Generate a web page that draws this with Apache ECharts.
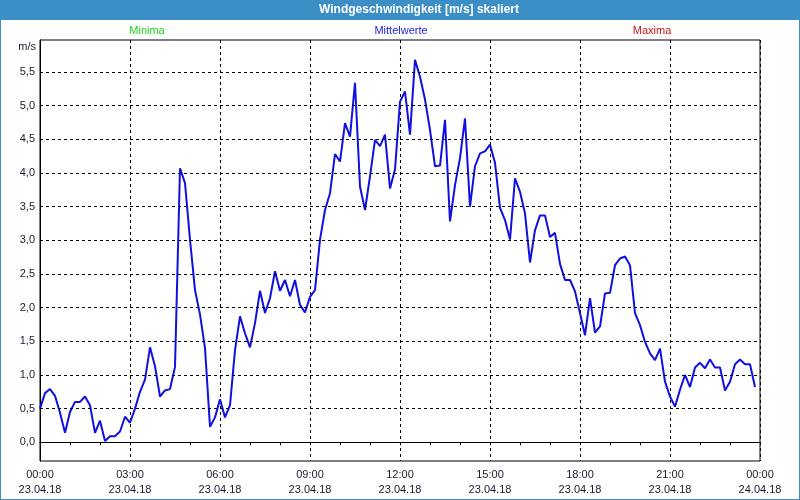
<!DOCTYPE html>
<html>
<head>
<meta charset="utf-8">
<script src="https://cdn.jsdelivr.net/npm/echarts@6/dist/echarts.min.js"></script>
<style>
html,body{margin:0;padding:0;background:#fff;}
#c{width:800px;height:500px;}
</style>
</head>
<body>
<div id="c"></div>
<script>
// 10-minute samples, 00:00 .. 23:50 on 23.04.18
const windValues = [
 0.50,0.73,0.79,0.69,0.44,0.14,0.45,0.60,0.60,0.68,0.55,0.14,
 0.32,0.02,0.09,0.09,0.16,0.38,0.29,0.50,0.75,0.93,1.41,1.13,
 0.68,0.77,0.79,1.12,4.07,3.85,3.01,2.26,1.90,1.40,0.23,0.37,
 0.64,0.37,0.55,1.37,1.87,1.62,1.41,1.77,2.25,1.92,2.14,2.54,
 2.25,2.41,2.17,2.41,2.04,1.93,2.16,2.26,3.01,3.45,3.70,4.28,
 4.17,4.74,4.54,5.34,3.80,3.45,3.95,4.49,4.40,4.57,3.77,4.05,
 5.06,5.21,4.57,5.68,5.43,5.09,4.64,4.10,4.11,4.79,3.28,3.82,
 4.22,4.81,3.50,4.10,4.29,4.32,4.42,4.15,3.48,3.30,3.01,3.92,
 3.72,3.40,2.67,3.15,3.37,3.37,3.05,3.11,2.65,2.41,2.41,2.24,
 1.92,1.59,2.14,1.63,1.72,2.21,2.22,2.63,2.73,2.76,2.63,1.92,
 1.74,1.49,1.32,1.22,1.39,0.90,0.68,0.53,0.78,1.00,0.82,1.11,
 1.18,1.10,1.23,1.11,1.11,0.77,0.90,1.16,1.23,1.16,1.16,0.82
];
const stepHours = 1/6;
const timeLabels = ['00:00','03:00','06:00','09:00','12:00','15:00','18:00','21:00','00:00'];
const dateLabels = ['23.04.18','23.04.18','23.04.18','23.04.18','23.04.18','23.04.18','23.04.18','23.04.18','24.04.18'];
const yTicks = [0,0.5,1,1.5,2,2.5,3,3.5,4,4.5,5,5.5];
const seriesNames = ['Minima','Mittelwerte','Maxima'];
const titleText = 'Windgeschwindigkeit [m/s] skaliert';
const unitText = 'm/s';

const seriesData = windValues.map((v,i)=>[i*stepHours, v]);
const FONT = "'Liberation Sans', Arial, sans-serif";
const chart = echarts.init(document.getElementById('c'), null, {renderer:'canvas'});
chart.setOption({
  animation:false,
  backgroundColor:'#ffffff',
  grid:{left:40,right:40,top:40,bottom:39,show:true,borderColor:'#000',borderWidth:1,backgroundColor:'transparent'},
  xAxis:{
    type:'value', min:0, max:24, interval:3,
    axisLine:{show:true,lineStyle:{color:'#000',width:1}},
    axisTick:{show:true,length:3,lineStyle:{color:'#000'}},
    minorTick:{show:true,splitNumber:3,length:3,lineStyle:{color:'#000'}},
    splitLine:{show:true,lineStyle:{color:'#000',type:[3,3],width:1}},
    axisLabel:{
      margin:6, color:'#1a1a2e', fontFamily:FONT, fontSize:11, lineHeight:15,
      showMinLabel:true, showMaxLabel:true,
      formatter:function(v){const k=Math.round(v/3);return timeLabels[k]+'\n'+dateLabels[k];}
    }
  },
  yAxis:{
    type:'value', min:-0.278, max:5.975,
    axisLine:{show:true,lineStyle:{color:'#000',width:1}},
    axisTick:{show:false},
    splitLine:{show:false},
    axisLabel:{
      customValues:yTicks, margin:5, color:'#1a1a2e', fontFamily:FONT, fontSize:11,
      formatter:function(v){return v.toFixed(1).replace('.',',');}
    }
  },
  series:[{
    name:seriesNames[1],
    type:'line',
    data:seriesData,
    showSymbol:false,
    symbol:'none',
    lineStyle:{color:'#1010e0',width:2},
    markLine:{
      silent:true, symbol:['none','none'], label:{show:false},
      lineStyle:{color:'#000',type:[3,3],width:1},
      emphasis:{disabled:true},
      data:yTicks.map(v=>({yAxis:v}))
    },
    z:3
  }],
  graphic:[
    {type:'rect',shape:{x:0,y:0,width:800,height:20},style:{fill:'#3c8fc6'},silent:true},
    {type:'rect',shape:{x:0,y:0,width:800,height:500},style:{fill:'none',stroke:'#3c8fc6',lineWidth:2},silent:true},
    {type:'text',x:419,y:10,style:{text:titleText,fill:'#ffffff',font:"bold 12px "+FONT,textAlign:'center',textVerticalAlign:'middle'},silent:true},
    {type:'text',x:147,y:31,style:{text:seriesNames[0],fill:'#1ed21e',font:"11px "+FONT,textAlign:'center',textVerticalAlign:'middle'},silent:true},
    {type:'text',x:401,y:31,style:{text:seriesNames[1],fill:'#2222dd',font:"11px "+FONT,textAlign:'center',textVerticalAlign:'middle'},silent:true},
    {type:'text',x:652,y:31,style:{text:seriesNames[2],fill:'#c81414',font:"11px "+FONT,textAlign:'center',textVerticalAlign:'middle'},silent:true},
    {type:'text',x:36,y:47,style:{text:unitText,fill:'#1a1a2e',font:"11px "+FONT,textAlign:'right',textVerticalAlign:'middle'},silent:true}
  ]
});
</script>
</body>
</html>
